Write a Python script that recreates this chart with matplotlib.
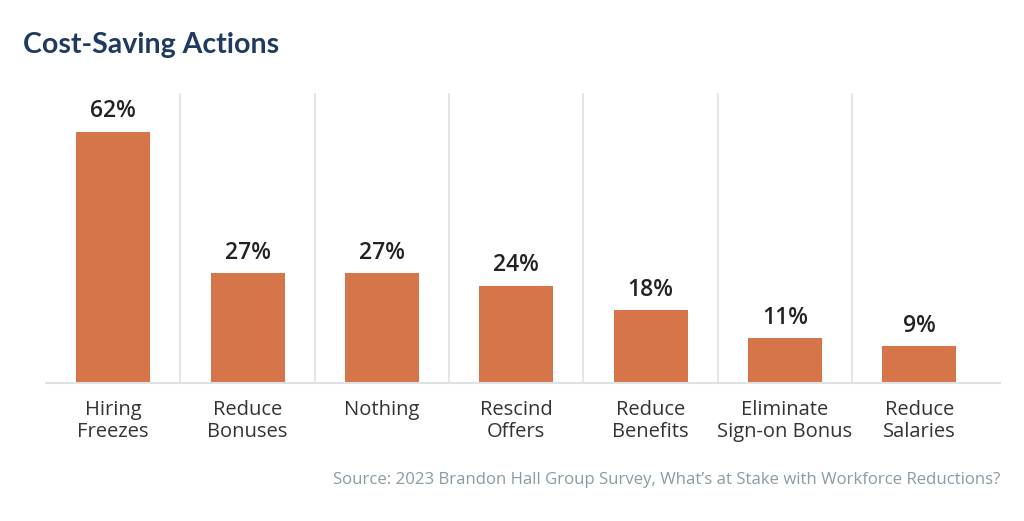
import matplotlib.pyplot as plt

categories = ["Hiring\nFreezes", "Reduce\nBonuses", "Nothing", "Rescind\nOffers",
              "Reduce\nBenefits", "Eliminate\nSign-on Bonus", "Reduce\nSalaries"]
values = [62, 27, 27, 24, 18, 11, 9]
labels = ["62%", "27%", "27%", "24%", "18%", "11%", "9%"]

plt.rcParams["font.family"] = ["Open Sans", "DejaVu Sans"]

fig = plt.figure(figsize=(10.24, 5.21), dpi=100)
ax = fig.add_axes([46 / 1024, 1 - 383 / 521, (1000 - 46) / 1024, 290 / 521])

bar_color = "#d6744a"
x = list(range(len(values)))
ax.bar(x, values, width=0.55, color=bar_color, zorder=2)

for xi, v, lab in zip(x, values, labels):
    ax.annotate(lab, (xi, v), xytext=(0, 6), textcoords="offset points",
                ha="center", va="bottom", fontsize=16.5, fontweight="semibold", color="#222222")

for sep in range(len(values) - 1):
    ax.axvline(sep + 0.5, color="#dde2e4", lw=1.2, zorder=1)

ax.set_xlim(-0.5, 6.6)
ax.set_ylim(0, 71.5)
for side in ["top", "right", "left"]:
    ax.spines[side].set_visible(False)
ax.spines["bottom"].set_color("#dde2e4")
ax.spines["bottom"].set_linewidth(1.5)
ax.set_yticks([])
ax.set_xticks(x)
ax.set_xticklabels(categories, fontsize=14.5, color="#333333", va="top", linespacing=1.18)
ax.tick_params(axis="x", length=0, pad=12)

fig.text(23 / 1024, 1 - 45 / 521, "Cost-Saving Actions", fontsize=20.5, fontweight="bold",
         color="#1f3a60", ha="left", va="center", family=["Lato", "DejaVu Sans"])
fig.text(1000 / 1024, 1 - 480 / 521,
         "Source: 2023 Brandon Hall Group Survey, What\u2019s at Stake with Workforce Reductions?",
         fontsize=12.1, color="#8a9ba2", ha="right", va="center")

fig.savefig("out.png", dpi=100)
